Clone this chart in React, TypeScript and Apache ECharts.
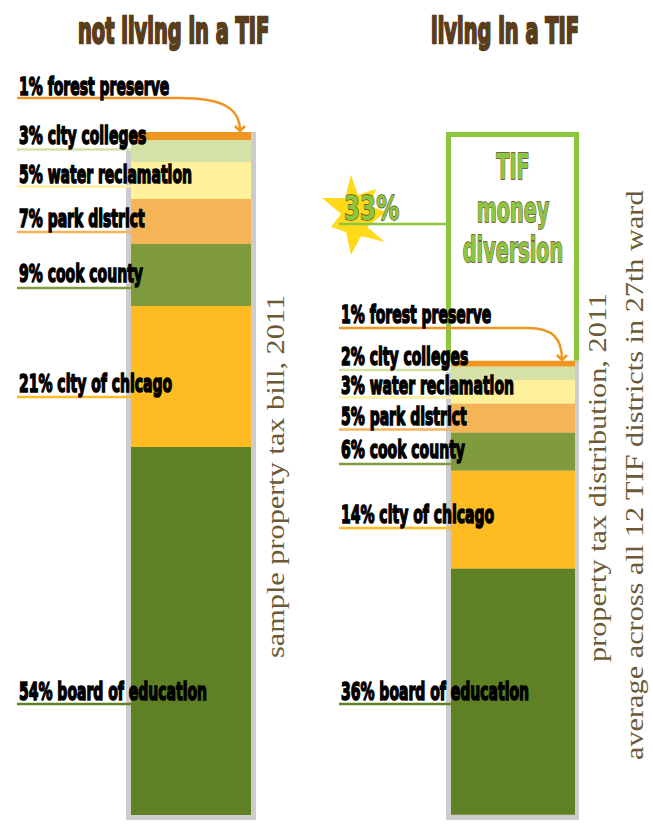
import React, { useEffect, useRef } from "react";
import * as echarts from "echarts";

const segmentNames = ["forest preserve", "city colleges", "water reclamation", "park district", "cook county", "city of chicago", "board of education"];
const segmentColors = ["#EF9522", "#D5E2A5", "#FFF09C", "#F5B557", "#7F9B3E", "#FEBB22", "#5F8024"];
// bar heights as measured in the picture (share of the whole bill, %)
const notLivingValues = [1.17, 3.22, 5.42, 6.59, 9.08, 20.64, 53.88];
const tifValue = 33.5;
const livingValues = [0.88, 1.9, 3.51, 4.25, 5.56, 14.35, 36.0];
// percentages as printed on the labels
const notLivingPrinted = ["1%", "3%", "5%", "7%", "9%", "21%", "54%"];
const livingPrinted = ["1%", "2%", "3%", "5%", "6%", "14%", "36%"];
const tifPrinted = "33%";
const tifWords = ["TIF", "money", "diversion"];

// label layout: [leader line y, text middle y]
const leftLabelLayout = [[98, 86], [149.5, 135], [186.5, 174], [232, 218], [288, 273], [397, 383], [704, 691]];
const rightLabelLayout = [[328, 314], [370, 356], [397.5, 385], [429.5, 416], [464, 449], [528, 514], [704, 691]];

const BROWN = "#5A3E1B";
const SERIF = "#6B5A35";
const GREEN = "#8CC63F";
const GRAY = "#CCCCCC";
const HEAVY = "'DejaVu Sans'";

function heavyText(text: string, x: number, y: number, size: number, sx: number, fill: string, align = "left", stroke = "#000", lw = 0.6) {
  return {
    type: "text", x, y, scaleX: sx, z: 50,
    style: { text, fontFamily: HEAVY, fontWeight: "bold", fontSize: size, fill, stroke, lineWidth: lw, align, verticalAlign: "middle" },
  };
}
function rotText(text: string, x: number, y: number) {
  return {
    type: "text", x, y, rotation: Math.PI / 2, scaleX: 1.165, z: 40,
    style: { text, fontFamily: "'Liberation Serif'", fontSize: 26, fill: SERIF, align: "left", verticalAlign: "middle" },
  };
}
function hline(x1: number, x2: number, y: number, color: string, w = 2.5) {
  return { type: "line", z: 30, shape: { x1, y1: y, x2, y2: y }, style: { stroke: color, lineWidth: w } };
}
function arrow(x0: number, x1: number, y0: number, tipX: number, tipY: number) {
  const c = segmentColors[0];
  return [
    hline(x0, x1, y0, c),
    { type: "bezierCurve", z: 31, shape: { x1, y1: y0, cpx1: x1 + (tipX - x1) * 0.75, cpy1: y0, cpx2: tipX, cpy2: y0 + (tipY - y0) * 0.35, x2: tipX, y2: tipY }, style: { stroke: c, lineWidth: 2.5, fill: "none" } },
    { type: "polyline", z: 31, shape: { points: [[tipX - 5, tipY - 5], [tipX, tipY], [tipX + 5, tipY - 5]] }, style: { stroke: c, lineWidth: 2.5, fill: "none" } },
  ];
}
function labels(printed: string[], layout: number[][], textX: number, lineX0: number, lineX1: number) {
  const out: any[] = [];
  printed.forEach((p, i) => {
    out.push(heavyText(`${p} ${segmentNames[i]}`, textX, layout[i][1], 25, 0.56, "#000", "left", "#000", 1.6));
    if (i > 0) out.push(hline(lineX0, lineX1, layout[i][0], segmentColors[i]));
  });
  return out;
}
function stackSeries(values: number[], idx: number, stack: string) {
  return values.map((v, i) => ({
    type: "bar", name: segmentNames[i], xAxisIndex: idx, yAxisIndex: idx, stack, barWidth: "100%",
    itemStyle: { color: segmentColors[i] }, data: [v],
  }));
}

export default function App() {
  const ref = useRef<HTMLDivElement>(null);
  useEffect(() => {
    const chart = echarts.init(ref.current!, undefined, { renderer: "svg" });
    const starPts = [[351, 175], [358, 195], [376, 189], [370, 206], [386, 212], [367, 227], [385, 242], [361, 236], [351, 255], [346, 232], [331, 227], [341, 214], [322, 198], [345, 198]];
    chart.setOption({
      animation: false,
      grid: [
        { left: 131, top: 132, width: 120, height: 683 },
        { left: 451, top: 132, width: 124, height: 683 },
      ],
      xAxis: [0, 1].map((i) => ({ type: "category", gridIndex: i, data: ["share"], show: false })),
      yAxis: [0, 1].map((i) => ({ type: "value", gridIndex: i, min: 0, max: 100, inverse: true, show: false })),
      series: [
        ...stackSeries(notLivingValues, 0, "a"),
        { type: "bar", name: "TIF money diversion", xAxisIndex: 1, yAxisIndex: 1, stack: "b", barWidth: "100%", itemStyle: { color: "transparent" }, data: [tifValue] },
        ...stackSeries(livingValues, 1, "b"),
        {
          type: "custom", xAxisIndex: 1, yAxisIndex: 1, z: 3, data: [[0, tifValue]],
          renderItem: (params: any, api: any) => {
            const top = api.coord([0, 0])[1];
            const bottom = api.coord([0, api.value(1)])[1];
            const cs = params.coordSys;
            return {
              type: "polyline",
              shape: { points: [[cs.x - 2.5, bottom], [cs.x - 2.5, top + 2.5], [cs.x + cs.width + 1.5, top + 2.5], [cs.x + cs.width + 1.5, bottom]] },
              style: { stroke: GREEN, lineWidth: 5, fill: "none" },
            };
          },
        },
      ],
      graphic: [
        { type: "rect", z: 0, shape: { x: 126, y: 151, width: 130, height: 669 }, style: { fill: GRAY } },
        { type: "rect", z: 0, shape: { x: 251, y: 132, width: 5, height: 30 }, style: { fill: GRAY } },
        { type: "rect", z: 0, shape: { x: 446, y: 372, width: 133, height: 448 }, style: { fill: GRAY } },
        { type: "rect", z: 0, shape: { x: 575, y: 361, width: 4, height: 20 }, style: { fill: GRAY } },
        heavyText("not living in a TIF", 78, 31, 36, 0.54, BROWN, "left", BROWN, 2.4),
        heavyText("living in a TIF", 431, 31, 36, 0.54, BROWN, "left", BROWN, 2.4),
        ...labels(notLivingPrinted, leftLabelLayout, 19, 17, 131),
        ...labels(livingPrinted, rightLabelLayout, 341, 339, 451),
        ...arrow(17, 180, 98, 240, 131),
        ...arrow(339, 528, 328, 562, 360),
        { type: "polygon", z: 20, shape: { points: starPts }, style: { fill: "#FFD91A" } },
        hline(339, 447, 224, GREEN),
        heavyText(tifPrinted, 344, 209, 33, 0.7, GREEN, "left", BROWN, 1.3),
        ...tifWords.map((w, i) => heavyText(w, 513, [167, 210, 250][i], 35, 0.55, GREEN, "center", BROWN, 1.4)),
        rotText("sample property tax bill, 2011", 275, 658),
        rotText("property tax distribution, 2011", 597, 662),
        rotText("average across all 12 TIF districts in 27th ward", 634, 760),
      ],
    });
    return () => chart.dispose();
  }, []);
  return <div ref={ref} style={{ position: "absolute", left: 0, top: 0, width: 653, height: 825 }} />;
}
